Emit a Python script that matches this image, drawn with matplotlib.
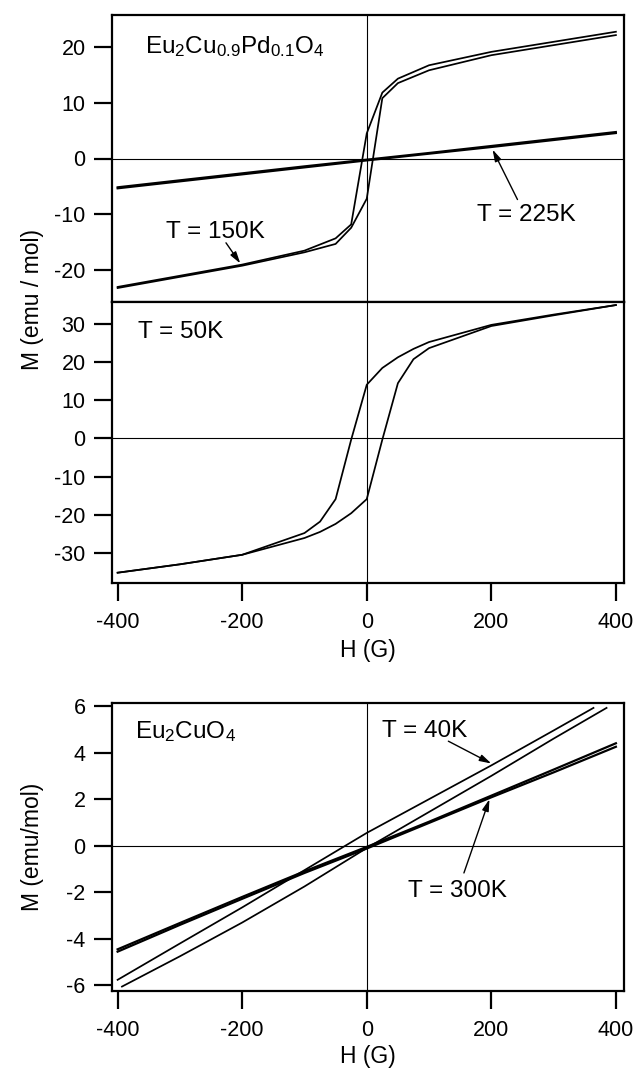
import matplotlib
matplotlib.use('Agg')
import matplotlib.pyplot as plt

plt.rcParams['font.family'] = ['Liberation Sans', 'DejaVu Sans']
plt.rcParams['mathtext.fontset'] = 'custom'
plt.rcParams['mathtext.rm'] = 'Liberation Sans'
plt.rcParams['mathtext.it'] = 'Liberation Sans:italic'
plt.rcParams['axes.unicode_minus'] = False

# ---- Eu2Cu0.9Pd0.1O4, T = 225K (two nearly overlapping branches)
h225 = [-400, -300, -200, -100, 0, 100, 200, 300, 400]
m225_a = [-5.15, -3.9, -2.65, -1.4, -0.2, 1.0, 2.25, 3.5, 4.75]
m225_b = [-5.35, -4.1, -2.85, -1.6, -0.35, 0.85, 2.05, 3.3, 4.55]

# ---- T = 150K loop
h150_dn = [400, 300, 200, 100, 50, 25, 0, -25, -50, -100, -200, -300, -400]
m150_dn = [22.7, 20.9, 19.1, 16.7, 14.3, 11.8, 4.5, -11.8, -14.3, -16.5, -19.0, -21.0, -23.0]
h150_up = [-400, -300, -200, -100, -50, -25, 0, 25, 50, 100, 200, 300, 400]
m150_up = [-23.2, -21.2, -19.2, -16.8, -15.3, -12.4, -7.2, 10.8, 13.5, 15.8, 18.5, 20.3, 22.1]

# ---- T = 50K loop
h50_dn = [400, 300, 200, 100, 75, 50, 25, 0, -25, -50, -75, -100, -200, -300, -400]
m50_dn = [35.0, 32.5, 29.8, 25.3, 23.5, 21.3, 18.5, 14.1, -0.3, -15.9, -21.8, -24.8, -30.5, -33.0, -35.2]
h50_up = [-400, -300, -200, -100, -75, -50, -25, 0, 25, 50, 75, 100, 200, 300, 400]
m50_up = [-35.2, -33.0, -30.5, -26.1, -24.5, -22.4, -19.6, -15.9, -0.3, 14.5, 20.8, 23.7, 29.5, 32.3, 35.0]

# ---- Eu2CuO4
h40_dn = [-400, -300, -200, -100, 0, 100, 200, 300, 364]
m40_dn = [-5.76, -4.2, -2.65, -1.05, 0.55, 2.0, 3.45, 4.95, 5.92]
h40_up = [-393, -300, -200, -100, 0, 100, 200, 300, 385]
m40_up = [-6.05, -4.75, -3.3, -1.75, -0.1, 1.45, 3.0, 4.6, 5.92]
h300 = [-400, -300, -200, -100, 0, 100, 200, 300, 400]
m300_a = [-4.55, -3.4, -2.28, -1.17, -0.12, 0.98, 2.08, 3.15, 4.25]
m300_b = [-4.45, -3.32, -2.2, -1.1, -0.05, 1.03, 2.15, 3.27, 4.4]

xticks = [-400, -200, 0, 200, 400]

W, H = 636, 1072
fig = plt.figure(figsize=(W / 100, H / 100), dpi=100)
left, right = 112 / W, 624 / W


def box(top, bottom):
    return [left, 1 - bottom / H, right - left, (bottom - top) / H]


ax1 = fig.add_axes(box(15, 302))
ax2 = fig.add_axes(box(302, 583))
ax3 = fig.add_axes(box(703, 991))

for ax in (ax1, ax2, ax3):
    ax.set_xlim(-409, 413)
    ax.axhline(0, color='k', lw=0.8, zorder=1)
    ax.axvline(0, color='k', lw=0.8, zorder=1)
    for s in ax.spines.values():
        s.set_linewidth(1.6)
    ax.tick_params(direction='out', length=13, width=1.6, labelsize=15.5, pad=6,
                   top=False, right=False)
    ax.tick_params(axis='x', pad=8)
    ax.set_xticks(xticks)

lw = 1.25
ax1.plot(h225, m225_a, 'k-', lw=1.5)
ax1.plot(h225, m225_b, 'k-', lw=1.5)
ax1.plot(h150_dn, m150_dn, 'k-', lw=lw)
ax1.plot(h150_up, m150_up, 'k-', lw=lw)
ax1.set_ylim(-25.7, 25.7)
ax1.set_yticks([-20, -10, 0, 10, 20])
ax1.tick_params(axis='x', bottom=False, labelbottom=False)

ax2.plot(h50_dn, m50_dn, 'k-', lw=lw)
ax2.plot(h50_up, m50_up, 'k-', lw=lw)
ax2.set_ylim(-37.9, 35.8)
ax2.set_yticks([-30, -20, -10, 0, 10, 20, 30])
ax2.set_xlabel('H (G)', fontsize=16.5, labelpad=4)

ax3.plot(h40_dn, m40_dn, 'k-', lw=lw)
ax3.plot(h40_up, m40_up, 'k-', lw=lw)
ax3.plot(h300, m300_a, 'k-', lw=1.6)
ax3.plot(h300, m300_b, 'k-', lw=1.6)
ax3.set_ylim(-6.24, 6.13)
ax3.set_yticks([-6, -4, -2, 0, 2, 4, 6])
ax3.set_xlabel('H (G)', fontsize=16.5, labelpad=3)

fig.text(33 / W, 1 - 300 / H, 'M (emu / mol)', rotation=90, fontsize=16.5,
         ha='center', va='center')
fig.text(33 / W, 1 - 847 / H, 'M (emu/mol)', rotation=90, fontsize=16.5,
         ha='center', va='center')

tsize = 17.5
arrow = dict(arrowstyle='-|>,head_length=0.7,head_width=0.2', color='k', lw=1.0,
             shrinkA=0, shrinkB=0)

ax1.text(-356, 18.8, r'Eu$_2$Cu$_{0.9}$Pd$_{0.1}$O$_4$', fontsize=tsize, va='baseline')
ax1.text(-323, -14.2, 'T = 150K', fontsize=tsize, va='baseline')
ax1.text(177, -11.2, 'T = 225K', fontsize=tsize, va='baseline')
ax1.annotate('', xy=(-203, -18.8), xytext=(-226, -15.1), arrowprops=arrow)
ax1.annotate('', xy=(202, 1.6), xytext=(242, -7.35), arrowprops=arrow)

ax2.text(-367, 26.4, 'T = 50K', fontsize=tsize, va='baseline')

ax3.text(-372, 4.63, r'Eu$_2$CuO$_4$', fontsize=tsize, va='baseline')
ax3.text(25, 4.68, 'T = 40K', fontsize=tsize, va='baseline')
ax3.text(67, -2.2, 'T = 300K', fontsize=tsize, va='baseline')
ax3.annotate('', xy=(200, 3.53), xytext=(131, 4.49), arrowprops=arrow)
ax3.annotate('', xy=(197, 2.0), xytext=(156, -1.17), arrowprops=arrow)

fig.savefig('out.png', dpi=100)
